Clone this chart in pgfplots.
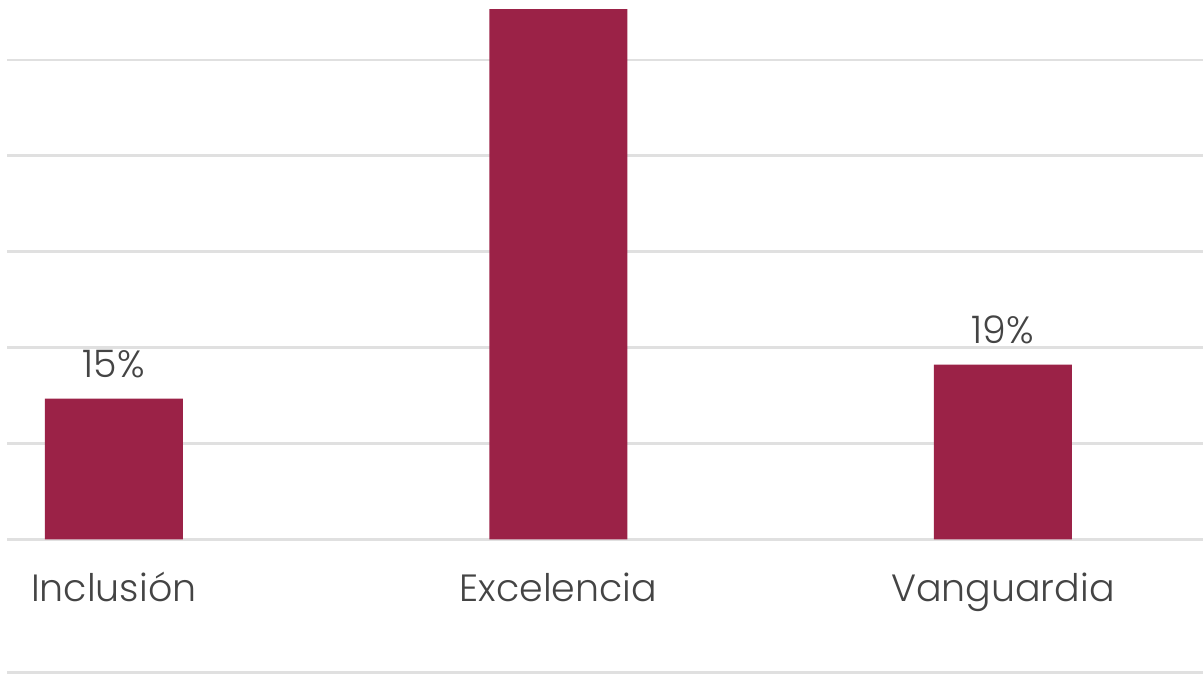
\documentclass[border=0pt]{standalone}
\usepackage{fontspec}
\setmainfont{Poppins}[UprightFont={* Light}]
\usepackage{pgfplots}
\pgfplotsset{compat=1.18}
\definecolor{guinda}{HTML}{9B2247}
\definecolor{gridc}{HTML}{E0E0E0}
\definecolor{txt}{HTML}{444444}
\begin{document}
\begin{tikzpicture}
\begin{pgfinterruptboundingbox}
\begin{axis}[name=ax, scale only axis, width=598.5pt, height=265pt,
  xmin=-0.2404, xmax=2.4494, ymin=0, ymax=55.21,
  axis line style={draw=none},
  major tick length=0pt,
  ytick={0,10,20,30,40,50}, yticklabels={},
  ymajorgrids, grid style={gridc, line width=1.4pt},
  xtick={0,1,2}, xticklabels={Inclusión,Excelencia,Vanguardia},
  xticklabel style={anchor=base, yshift=-31pt, font=\fontsize{19}{22}\selectfont, text=txt},
  ybar, bar width=69pt,
  nodes near coords, point meta=explicit symbolic,
  every node near coord/.append style={anchor=base, yshift=10.5pt, font=\fontsize{19}{22}\selectfont, text=txt},
]
\addplot[fill=guinda, draw=none] coordinates {(0,14.69) [15\%] (1,66) [] (2,18.23) [19\%]};
\end{axis}
\end{pgfinterruptboundingbox}
\draw[gridc, line width=1.4pt] ([yshift=-66.5pt]ax.south west) -- ([yshift=-66.5pt]ax.south east);
\path[use as bounding box] ([xshift=-3.5pt, yshift=-69.5pt]ax.south west) rectangle ([yshift=5pt]ax.north east);
\end{tikzpicture}
\end{document}
